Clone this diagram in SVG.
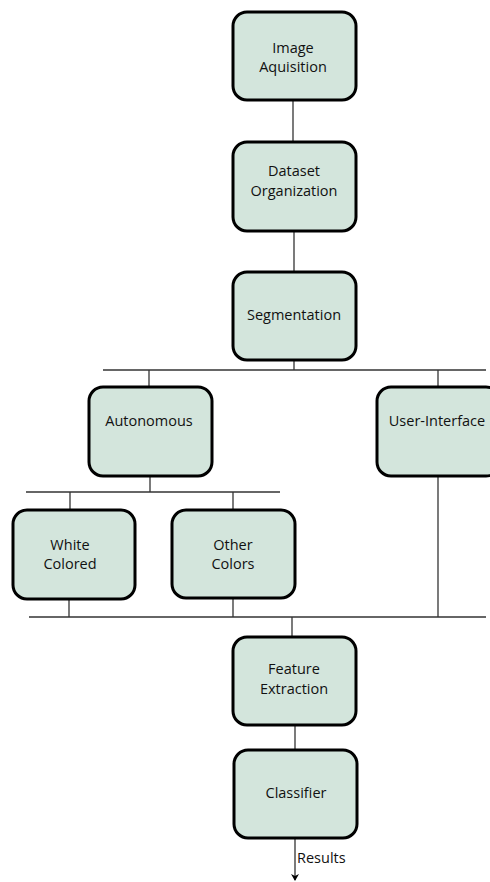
<svg xmlns="http://www.w3.org/2000/svg" width="490" height="882" viewBox="0 0 490 882">
<defs>
<style>
.box{fill:#d3e5dc;stroke:#000;stroke-width:3}
.t{font-family:"Open Sans","Liberation Sans",sans-serif;font-size:14.5px;fill:#111;text-anchor:middle}
.c{stroke:#333;stroke-width:1.3;fill:none}
</style>
<marker id="arr" markerWidth="8" markerHeight="8" refX="6" refY="4" orient="auto" markerUnits="userSpaceOnUse">
<path d="M0,0 L7,4 L0,8 L2,4 Z" fill="#000"/>
</marker>
</defs>
<rect width="490" height="882" fill="#fff"/>
<g id="connectors">
<line class="c" x1="293" y1="100" x2="293" y2="141"/>
<line class="c" x1="294" y1="231" x2="294" y2="272"/>
<line class="c" x1="294" y1="360" x2="294" y2="370"/>
<line class="c" x1="103" y1="370" x2="486" y2="370"/>
<line class="c" x1="149" y1="370" x2="149" y2="387"/>
<line class="c" x1="438" y1="370" x2="438" y2="387"/>
<line class="c" x1="150" y1="476" x2="150" y2="492"/>
<line class="c" x1="26" y1="492" x2="280" y2="492"/>
<line class="c" x1="70" y1="492" x2="70" y2="510"/>
<line class="c" x1="233" y1="492" x2="233" y2="510"/>
<line class="c" x1="69" y1="599" x2="69" y2="617"/>
<line class="c" x1="233" y1="598" x2="233" y2="617"/>
<line class="c" x1="438" y1="476" x2="438" y2="617"/>
<line class="c" x1="29" y1="617" x2="486" y2="617"/>
<line class="c" x1="292" y1="617" x2="292" y2="637"/>
<line class="c" x1="295" y1="725" x2="295" y2="750"/>
<line class="c" x1="295" y1="838" x2="295" y2="880" marker-end="url(#arr)"/>
<text class="t" x="297" y="863" style="text-anchor:start">Results</text>
</g>
<g id="image-aquisition">
<rect class="box" x="233" y="12" width="123" height="88" rx="14"/>
<text class="t" x="293" y="53">Image</text>
<text class="t" x="293" y="72">Aquisition</text>
</g>
<g id="dataset-organization">
<rect class="box" x="233" y="142" width="123" height="89" rx="14"/>
<text class="t" x="294" y="176">Dataset</text>
<text class="t" x="294" y="196">Organization</text>
</g>
<g id="segmentation">
<rect class="box" x="233" y="272" width="123" height="88" rx="14"/>
<text class="t" x="294" y="320">Segmentation</text>
</g>
<g id="autonomous">
<rect class="box" x="89" y="387" width="123" height="89" rx="14"/>
<text class="t" x="149" y="426">Autonomous</text>
</g>
<g id="user-interface">
<rect class="box" x="377" y="387" width="123" height="89" rx="14"/>
<text class="t" x="437" y="426">User-Interface</text>
</g>
<g id="white-colored">
<rect class="box" x="13" y="510" width="122" height="89" rx="14"/>
<text class="t" x="70" y="550">White</text>
<text class="t" x="70" y="569">Colored</text>
</g>
<g id="other-colors">
<rect class="box" x="172" y="510" width="123" height="88" rx="14"/>
<text class="t" x="233" y="550">Other</text>
<text class="t" x="233" y="569">Colors</text>
</g>
<g id="feature-extraction">
<rect class="box" x="233" y="637" width="123" height="88" rx="14"/>
<text class="t" x="294" y="674">Feature</text>
<text class="t" x="294" y="694">Extraction</text>
</g>
<g id="classifier">
<rect class="box" x="234" y="750" width="123" height="88" rx="14"/>
<text class="t" x="296" y="798">Classifier</text>
</g>
</svg>
